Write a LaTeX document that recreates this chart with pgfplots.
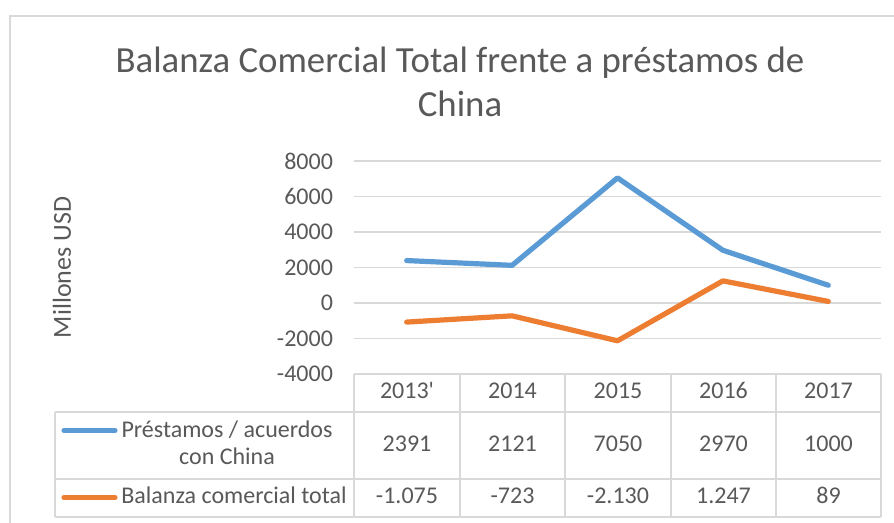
\documentclass[border=0pt]{standalone}
\usepackage{pgfplots}
\pgfplotsset{compat=1.18}
\usepackage{fontspec}
\setmainfont{Carlito}
\newfontfamily\plainc{Carlito}
\definecolor{blueS}{HTML}{5B9BD5}
\definecolor{orangeS}{HTML}{ED7D31}
\definecolor{gridg}{HTML}{D9D9D9}
\definecolor{txtg}{HTML}{595959}
\begin{document}
\begin{tikzpicture}
\begin{scope}[x=0.5pt,y=-0.5pt]
\useasboundingbox (0,0) rectangle (894,523);
\fill[white] (0,0) rectangle (894,523);
% chart frame
\draw[gridg, line width=1pt] (10,523) -- (10,16.5) -- (894,16.5);
% title
\node[anchor=base, text=txtg, font=\fontsize{18.4}{22}\selectfont, inner sep=0pt] at (460,72.5) {Balanza Comercial Total frente a préstamos de};
\node[anchor=base, text=txtg, font=\fontsize{18.4}{22}\selectfont, inner sep=0pt] at (460,117) {China};
% y label
\node[rotate=90, text=txtg, font=\fontsize{13}{15}\selectfont, inner sep=0pt] at (62,267.5) {Millones USD};
% table grid
\draw[gridg, line width=0.9pt] (354,374) -- (881,374);
\draw[gridg, line width=0.9pt] (55,412) -- (881,412);
\draw[gridg, line width=0.9pt] (55,479) -- (881,479);
\draw[gridg, line width=0.9pt] (55,516.7) -- (881,516.7);
\draw[gridg, line width=0.9pt] (55,412) -- (55,516.7);
\foreach \xx in {354,460,565,671,776,881} {\draw[gridg, line width=0.9pt] (\xx,374) -- (\xx,516.7);}
% headers
\foreach \xx/\lab in {407/{2013\plainc'},512.5/2014,618/2015,723.5/2016,828.5/2017} {
  \node[text=txtg, font=\fontsize{12}{14}\selectfont, inner sep=0pt] at (\xx,393) {\strut\lab};
}
\foreach \xx/\lab in {407/2391,512.5/2121,618/7050,723.5/2970,828.5/1000} {
  \node[text=txtg, font=\fontsize{12}{14}\selectfont, inner sep=0pt] at (\xx,445.5) {\strut\lab};
}
\foreach \xx/\lab in {407/-1.075,512.5/-723,618/-2.130,723.5/1.247,828.5/89} {
  \node[text=txtg, font=\fontsize{12}{14}\selectfont, inner sep=0pt] at (\xx,498) {\strut\lab};
}
% row labels
\draw[blueS, line width=2.6pt, line cap=round] (64,430.5) -- (115,430.5);
\node[text=txtg, font=\fontsize{12}{14}\selectfont, inner sep=0pt] at (227,431.7) {\strut Préstamos / acuerdos};
\node[text=txtg, font=\fontsize{12}{14}\selectfont, inner sep=0pt] at (227,458.5) {\strut con China};
\draw[orangeS, line width=2.6pt, line cap=round] (64,497.5) -- (115,497.5);
\node[anchor=west, text=txtg, font=\fontsize{12}{14}\selectfont, inner sep=0pt] at (121,498) {\strut Balanza comercial total};
\end{scope}
\begin{axis}[
  at={(177pt,-187pt)}, anchor=south west,
  scale only axis, width=263.5pt, height=106.5pt,
  xmin=-0.5, xmax=4.5, ymin=-4000, ymax=8000,
  ytick={-4000,-2000,0,2000,4000,6000,8000},
  yticklabels={-4000,-2000,0,2000,4000,6000,8000},
  xtick=\empty,
  axis line style={draw=none},
  ymajorgrids, grid style={draw=gridg, line width=0.9pt},
  major tick length=0pt,
  yticklabel style={font=\fontsize{12}{14}\selectfont, text=txtg, anchor=east, xshift=-7pt},
  clip=false,
]
\addplot[color=blueS, line width=2.6pt, line cap=round, line join=round] coordinates {(0,2391) (1,2121) (2,7050) (3,2970) (4,1000)};
\addplot[color=orangeS, line width=2.6pt, line cap=round, line join=round] coordinates {(0,-1075) (1,-723) (2,-2130) (3,1247) (4,89)};
\end{axis}
\end{tikzpicture}
\end{document}
